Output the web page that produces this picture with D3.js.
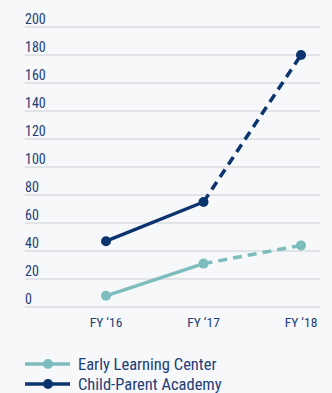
<!DOCTYPE html>
<html>
<head>
<meta charset="utf-8">
<script src="https://cdn.jsdelivr.net/npm/d3@7"></script>
<style>
  body { margin: 0; background: #f7f8fa; }
  svg text { font-family: "Liberation Sans Narrow", "Roboto Condensed", Roboto, sans-serif; fill: #1d3e78; }
</style>
</head>
<body>
<svg id="chart" width="332" height="393"></svg>
<script>
const years = ["FY \u201816", "FY \u201817", "FY \u201818"]
const yTicks = [0, 20, 40, 60, 80, 100, 120, 140, 160, 180, 200]
const earlyLearning = [8, 31, 44]
const childParent = [47, 75, 180]

const seriesList = [
    { name: "Early Learning Center", values: earlyLearning, color: "#7dbdbd" },
    { name: "Child-Parent Academy", values: childParent, color: "#0c346e" }
]

let svg = d3.select('#chart')

let x = d3.scalePoint()
.domain(years)
.range([106, 301])

let y = d3.scaleLinear()
.domain([0, 200])
.range([307, 27])

// gridlines + labels
let grid = svg.append('g')
grid.selectAll('line')
.data(yTicks)
.enter()
.append('line')
.attr('x1', 25)
.attr('x2', 320)
.attr('y1', d => y(d))
.attr('y2', d => y(d))
.attr('stroke', '#dadcdf')
.attr('stroke-width', 1.5)

grid.selectAll('text')
.data(yTicks)
.enter()
.append('text')
.attr('x', 25)
.attr('y', d => y(d) - 3)
.attr('font-size', 14)
.text(d => d)

// x labels
svg.append('g').selectAll('text')
.data(years)
.enter()
.append('text')
.attr('x', d => x(d))
.attr('y', 327)
.attr('text-anchor', 'middle')
.attr('font-size', 13.5)
.text(d => d)

let line = d3.line()
.x(d => x(d.year))
.y(d => y(d.value))

seriesList.forEach(s => {
    let pts = s.values.map((v, i) => ({ year: years[i], value: v }))
    let g = svg.append('g')
    g.append('path')
    .attr('d', line(pts.slice(0, 2)))
    .attr('fill', 'none')
    .attr('stroke', s.color)
    .attr('stroke-width', 3.5)
    g.append('path')
    .attr('d', line(pts.slice(1, 3)))
    .attr('fill', 'none')
    .attr('stroke', s.color)
    .attr('stroke-width', 3.5)
    .attr('stroke-dasharray', '9,6')
    g.selectAll('circle')
    .data(pts)
    .enter()
    .append('circle')
    .attr('cx', d => x(d.year))
    .attr('cy', d => y(d.value))
    .attr('r', 5)
    .attr('fill', s.color)
})

// legend
let legend = svg.append('g').selectAll('g')
.data(seriesList)
.enter()
.append('g')
.attr('transform', (d, i) => `translate(25 ${364 + i * 20})`)

legend.append('line')
.attr('x1', 0).attr('x2', 45)
.attr('stroke', d => d.color)
.attr('stroke-width', 3.5)
legend.append('circle')
.attr('cx', 23).attr('r', 5)
.attr('fill', d => d.color)
legend.append('text')
.attr('x', 53)
.attr('y', 5.5)
.attr('font-size', 16.5)
.text(d => d.name)
</script>
</body>
</html>
